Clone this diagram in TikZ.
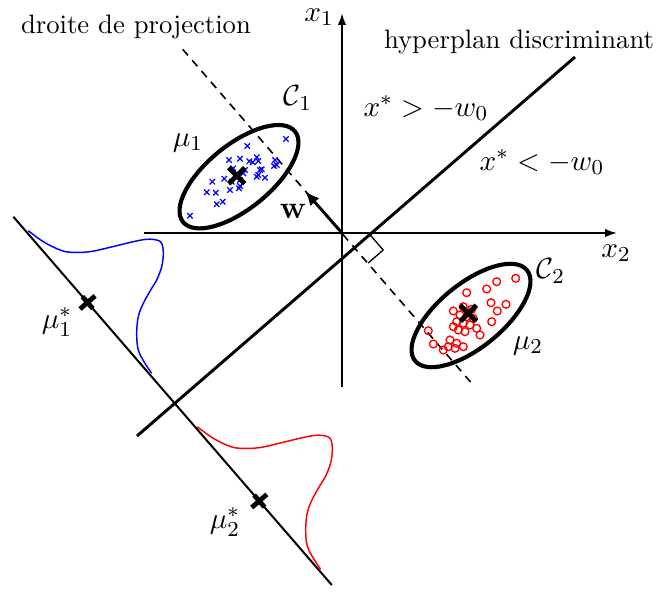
\documentclass[tikz,border=0pt]{standalone}
\usepackage{amsmath}
\usetikzlibrary{arrows.meta}
\begin{document}
\begin{tikzpicture}[x=0.375pt,y=-0.375pt,
  axis/.style={line width=0.75pt,-{Latex[length=4.5pt,width=3.2pt]}},
  lbl/.style={inner sep=0pt,anchor=center},
  mlbl/.style={inner sep=0pt,anchor=center,font=\fontsize{11}{13}\selectfont},
  ell/.style={line width=1.55pt},
  meancross/.style={line width=1.8pt},
  bluex/.style={blue,line width=0.45pt},
  redo/.style={red,line width=0.5pt},
  dens/.style={line width=0.55pt},
  projdash/.style={line width=0.6pt,dash pattern=on 3pt off 2.4pt}]
\useasboundingbox (0,0) rectangle (656,592);

% key points
\coordinate (O) at (342,233);
\coordinate (xl) at (144,233);
\coordinate (xr) at (617,233);
\coordinate (yb) at (342,387);
\coordinate (yt) at (342,13);
\coordinate (h1) at (137,436);
\coordinate (h2) at (575,57);
\coordinate (d1) at (182.7,49.3);
\coordinate (d2) at (474,386);
\coordinate (p1) at (13.3,216.7);
\coordinate (p2) at (331.8,585);
\coordinate (wt) at (305,191);

% projection direction (dashed)
\draw[projdash] (d1) -- (d2);
% axes
\draw[axis] (xl) -- (xr);
\draw[axis] (yb) -- (yt);
% hyperplane
\draw[line width=1.1pt] (h1) -- (h2);
% projection line
\draw[line width=0.75pt] (p1) -- (p2);
% right angle marker
\draw[line width=0.5pt] (370.1,234.9) -- (383.2,250) -- (368.1,263.1);
% w vector
\draw[line width=1.1pt,-{Latex[length=5.5pt,width=4.5pt]}] (O) -- (wt);

% ellipses
\draw[ell,rotate around={39:(239,176.7)}] (239,176.7) ellipse [x radius=72,y radius=32];
\draw[ell,rotate around={39:(471,315.5)}] (471,315.5) ellipse [x radius=72,y radius=32];

% blue samples
\foreach \x/\y in {286/139,247.3/146,229/160,240/158.7,249.3/161.3,256.7/157.3,258.3/161,252.7/162.3,275/160,276.7/165,274/166,261.7/169.3,260/170,245/170,243.3/173.3,256.7/176.7,265/177.7,258.3/175,224.3/178.7,212.3/181.7,231.7/181.7,240/186,230/190,239/188.3,206.7/192.3,215.7/192.7,216.7/204.3,222.7/201.7,190/215.7,233.3/168.3,240/180}
  \draw[bluex] (\x-2.7,\y-2.7) -- (\x+2.7,\y+2.7) (\x-2.7,\y+2.7) -- (\x+2.7,\y-2.7);

% red samples
\foreach \x/\y in {515.7/278.3,496.7/281.7,486.7/289,466.7/292.7,491/302.7,506/304.3,497.3/311,491.7/321.7,453.3/311,463.3/306.7,471.7/309.3,460/315,456.7/321.7,463.3/323.3,470/325,476.7/328.3,458.3/330,465/331.7,480/335,428.3/330.7,433.3/344,450/340,456.7/343.3,448.3/346.7,443.3/350,455/348.3,463.3/346.7,453.3/326.7,466.7/316.7,473.3/318.3}
  \draw[redo] (\x,\y) circle [radius=3.9];

% class means
\draw[meancross] (228.7,167.7) -- (244.7,183.7) (228.7,183.7) -- (244.7,167.7);
\draw[meancross] (460.3,305.3) -- (476.3,321.3) (460.3,321.3) -- (476.3,305.3);

% projected means
\draw[meancross] (80,309) -- (95.1,295.9) (82.4,296.6) -- (92.8,308.6);
\draw[meancross] (251.7,507.5) -- (266.8,494.4) (254.1,495.1) -- (264.5,507.1);

% projected densities
\def\denscurve{(28.3,230.7) (43.3,241.7) (60,250) (71.7,252.3) (90,251.7) (110,247.3) (133.3,241.7) (146.7,239.3) (156.7,240) (161.7,243.3) (163.3,253.3) (161.7,266.7) (156.7,280) (151.7,288.3) (143.3,303.3) (138.3,316.7) (136.7,333.3) (138.3,350) (145,363.3) (151.7,373.3)}
\draw[dens,blue] plot [smooth,tension=0.6] coordinates {\denscurve};
\begin{scope}[shift={(169,196)}]
\draw[dens,red] plot [smooth,tension=0.6] coordinates {\denscurve};
\end{scope}

% labels
\node[lbl] (tproj) at (136,27) {droite de projection};
\node[lbl] (thyp) at (519,42) {hyperplan discriminant};
\node[mlbl] (tC1) at (298,98) {$\mathcal{C}_1$};
\node[mlbl] (tm1) at (188,143) {$\mu_1$};
\node[mlbl] (tgt) at (426,108) {$x^*>-w_0$};
\node[mlbl] (tlt) at (542,162) {$x^*<-w_0$};
\node[mlbl,font=\fontsize{12.5}{14}\selectfont] (tw) at (293,211) {$\mathbf{w}$};
\node[mlbl] (tx2) at (616,253) {$x_2$};
\node[mlbl] (tx1) at (319,17) {$x_1$};
\node[mlbl] (tC2) at (551,271) {$\mathcal{C}_2$};
\node[mlbl] (tm2) at (528,346) {$\mu_2$};
\node[mlbl] (tm1s) at (57,322) {$\mu_1^*$};
\node[mlbl] (tm2s) at (225,522) {$\mu_2^*$};
\end{tikzpicture}
\end{document}
